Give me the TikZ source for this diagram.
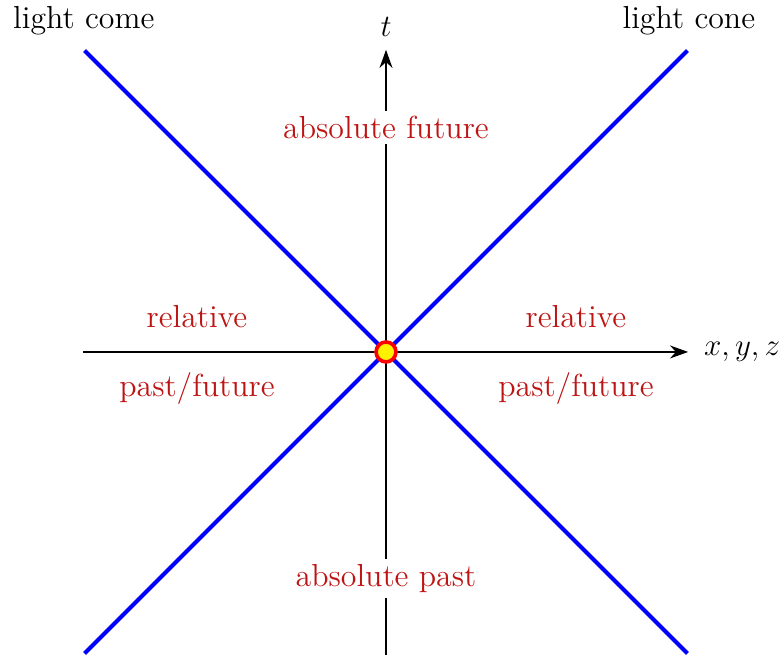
\documentclass[tikz,border=0pt]{standalone}
\usetikzlibrary{arrows.meta}
\definecolor{lbl}{RGB}{190,20,20}
\newcommand{\lblfont}{\fontsize{12.3}{15}\selectfont}
\begin{document}
\begin{tikzpicture}[
  axisline/.style={line width=0.45pt,-{Stealth[length=7pt,width=5pt]}},
  cone/.style={blue,line width=1.6pt},
  region/.style={text=lbl,font=\lblfont,fill=white,inner sep=2pt},
  plain/.style={font=\lblfont}]
\useasboundingbox (-5.238,-4.125) rectangle (5.387,4.776);
\coordinate (O) at (0,0);
\coordinate (xl) at (-4.11,0);
\coordinate (xr) at (4.10,0);
\coordinate (yb) at (0,-4.11);
\coordinate (yt) at (0,4.10);
\coordinate (c1) at (-4.09,4.09);
\coordinate (c2) at (4.09,-4.09);
\coordinate (c3) at (-4.09,-4.09);
\coordinate (c4) at (4.09,4.09);
\draw[axisline] (xl) -- (xr);
\draw[axisline] (yb) -- (yt);
\node[plain,anchor=west,inner sep=2pt,xshift=0.14cm] (xyz) at (xr) {$x,y,z$};
\node[plain] (t) at (0,4.41) {$t$};
\draw[cone] (c1) -- (c2);
\draw[cone] (c3) -- (c4);
\node[region] (af) at (0,3.04) {absolute future};
\node[region] (ap) at (0,-3.07) {absolute past};
\node[region] (rl) at (-2.565,0.475) {relative};
\node[region] (pl) at (-2.565,-0.49) {past/future};
\node[region] (rr) at (2.578,0.475) {relative};
\node[region] (pr) at (2.578,-0.49) {past/future};
\node[plain] (lc1) at (-4.10,4.50) {light come};
\node[plain] (lc2) at (4.11,4.50) {light cone};
\node[circle,draw=red,fill=yellow,line width=1.4pt,minimum size=0.27cm,inner sep=0pt] (ev) at (O) {};
\end{tikzpicture}
\end{document}
